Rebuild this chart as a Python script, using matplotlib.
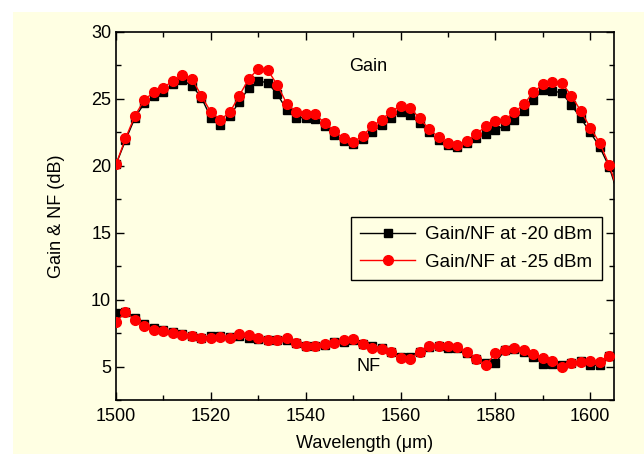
import numpy as np
import matplotlib.pyplot as plt
from matplotlib.patches import Rectangle
from matplotlib.ticker import MultipleLocator

plt.rcParams['font.family'] = ['Liberation Sans', 'DejaVu Sans']

# wavelength grid (nm), every 2 nm; last point sits just outside the axes
wl = list(range(1500, 1606, 2))

gain_20 = [20.1, 21.9, 23.6, 24.7, 25.2, 25.55, 26.1, 26.4, 26.0, 25.1,
           23.6, 23.05, 23.7, 24.8, 25.8, 26.35, 26.2, 25.35, 24.2, 23.6,
           23.6, 23.5, 23.0, 22.3, 21.85, 21.6, 22.0, 22.55, 23.05, 23.6,
           24.05, 23.8, 23.2, 22.5, 21.9, 21.55, 21.4, 21.7, 22.1, 22.4,
           22.7, 23.0, 23.4, 24.1, 24.9, 25.7, 25.6, 25.45, 24.55, 23.55,
           22.5, 21.4, 19.9]
gain_25 = [20.1, 22.05, 23.75, 24.95, 25.5, 25.85, 26.35, 26.75, 26.5, 25.25,
           24.0, 23.45, 24.0, 25.25, 26.5, 27.25, 27.15, 26.05, 24.65, 24.0,
           23.9, 23.85, 23.2, 22.6, 22.05, 21.75, 22.25, 22.95, 23.45, 24.05,
           24.5, 24.35, 23.55, 22.75, 22.15, 21.7, 21.55, 21.85, 22.4, 22.95,
           23.35, 23.45, 24.0, 24.6, 25.5, 26.1, 26.3, 26.2, 25.25, 24.1,
           22.85, 21.7, 20.05]
nf_20 = [9.0, 9.1, 8.65, 8.15, 7.9, 7.75, 7.55, 7.45, 7.3, 7.15,
         7.3, 7.3, 7.2, 7.25, 7.15, 7.05, 7.0, 6.95, 7.0, 6.75,
         6.55, 6.5, 6.6, 6.8, 6.85, 6.95, 6.7, 6.5, 6.4, 6.05,
         5.75, 5.7, 6.05, 6.45, 6.5, 6.4, 6.4, 6.0, 5.6, 5.25,
         5.25, 6.25, 6.3, 6.05, 5.7, 5.2, 5.2, 5.1, 5.3, 5.4,
         5.1, 5.1, 5.8]
nf_25 = [8.3, 9.1, 8.45, 8.0, 7.7, 7.65, 7.5, 7.35, 7.25, 7.15,
         7.15, 7.2, 7.15, 7.4, 7.35, 7.15, 7.0, 7.0, 7.1, 6.75,
         6.55, 6.5, 6.7, 6.75, 6.95, 7.05, 6.7, 6.35, 6.3, 6.05,
         5.65, 5.6, 6.1, 6.5, 6.5, 6.55, 6.45, 6.05, 5.6, 5.1,
         6.0, 6.25, 6.35, 6.2, 5.95, 5.65, 5.4, 5.0, 5.25, 5.35,
         5.4, 5.35, 5.8]

# gain keeps falling past the right edge
gain_20_tail = 17.7
gain_25_tail = 17.9

fs = 13
yellow = '#FFFFE3'
fig = plt.figure(figsize=(6.44, 4.54), dpi=100)
fig.patch.set_facecolor('white')
fig.patches.append(Rectangle((13 / 644, 0), 1, 1 - 12 / 454, transform=fig.transFigure,
                             facecolor=yellow, edgecolor='none', zorder=-10))

ax = fig.add_axes([116 / 644, 1 - 400 / 454, 498 / 644, 368 / 454])
ax.set_facecolor(yellow)

ax.plot(wl + [1606], gain_20 + [gain_20_tail], '-', color='black', lw=1.0, zorder=2)
ax.plot(wl, gain_20, 's', color='black', ms=6.2, zorder=3)
ax.plot(wl + [1606], gain_25 + [gain_25_tail], '-', color='red', lw=1.0, zorder=4)
ax.plot(wl, gain_25, 'o', color='red', ms=7, zorder=5)

ax.plot(wl, nf_20, '-s', color='black', lw=1.0, ms=6.2, zorder=2,
        label='Gain/NF at -20 dBm')
ax.plot(wl, nf_25, '-o', color='red', lw=1.0, ms=7, zorder=4,
        label='Gain/NF at -25 dBm')

ax.set_xlim(1500, 1605)
ax.set_ylim(2.5, 30)
ax.xaxis.set_major_locator(MultipleLocator(20))
ax.xaxis.set_minor_locator(MultipleLocator(10))
ax.yaxis.set_major_locator(MultipleLocator(5))
ax.yaxis.set_minor_locator(MultipleLocator(2.5))
ax.tick_params(which='both', direction='in', top=True, right=True, labelsize=fs, width=1)
ax.tick_params(which='major', length=6)
ax.tick_params(which='minor', length=3.5)
ax.tick_params(axis='x', which='major', pad=6)
ax.set_yticks([5, 10, 15, 20, 25, 30])
for s in ax.spines.values():
    s.set_linewidth(1.2)

ax.set_xlabel('Wavelength (\u03bcm)', fontsize=fs, labelpad=7)
ax.set_ylabel('Gain & NF (dB)', fontsize=fs, labelpad=19)

ax.text(1553.2, 27.4, 'Gain', fontsize=fs, ha='center', va='center')
ax.text(1553.2, 5.0, 'NF', fontsize=fs, ha='center', va='center')

leg = ax.legend(loc='upper left', bbox_to_anchor=(235 / 498, 1 - 185 / 368),
                borderaxespad=0, fontsize=13.5, numpoints=1, handlelength=2.9,
                handletextpad=0.55, frameon=True, fancybox=False, edgecolor='black',
                facecolor=yellow, framealpha=1, borderpad=0.5, labelspacing=0.55)
leg.get_frame().set_linewidth(1.0)

fig.savefig('out.png', dpi=100, facecolor=fig.get_facecolor())
